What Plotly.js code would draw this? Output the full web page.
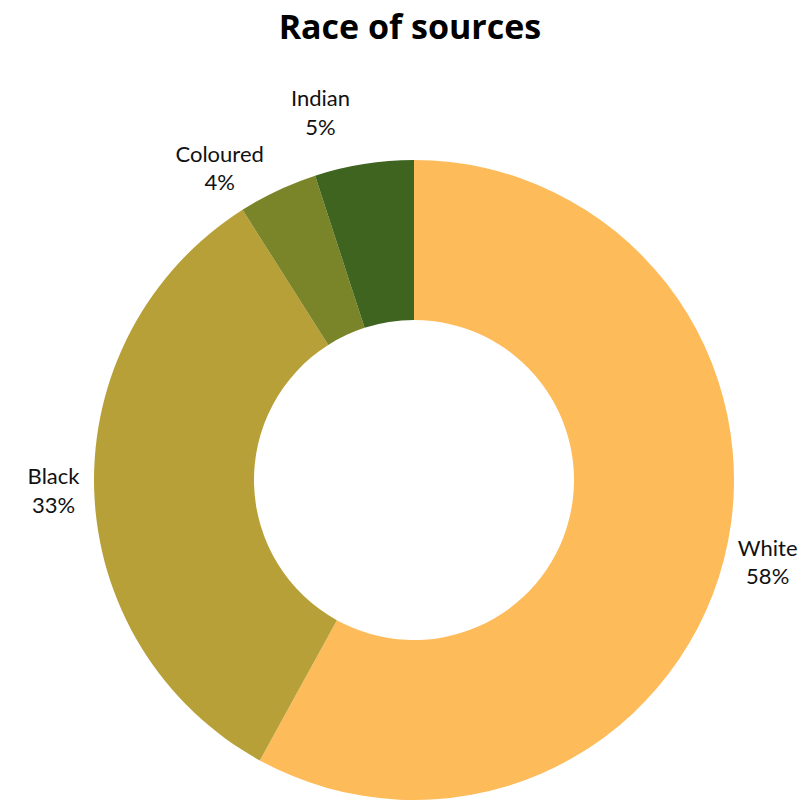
<!DOCTYPE html>
<html>
<head>
<meta charset="utf-8">
<script src="https://cdn.plot.ly/plotly-3.0.1.min.js"></script>
<style>html,body{margin:0;padding:0;background:#fff;}#chart{width:807px;height:800px;}#chart path.textline{display:none;}</style>
</head>
<body>
<div id="chart"></div>
<script>
const categories = ["White", "Black", "Coloured", "Indian"];
const shares = [58, 33, 4, 5];
const sliceColors = ["#FDBB5A", "#B8A038", "#7A8428", "#3F6420"];

const trace = {
  type: "pie",
  labels: categories,
  values: shares,
  hole: 0.5,
  sort: false,
  direction: "clockwise",
  rotation: 0,
  marker: { colors: sliceColors, line: { width: 0 } },
  textinfo: "label+percent",
  texttemplate: "%{label}<br>%{percent:.0%}",
  textposition: "outside",
  outsidetextfont: { family: "Lato, sans-serif", size: 22, color: "#111" },
  showlegend: false,
  hoverinfo: "label+percent"
};

const layout = {
  width: 807,
  height: 800,
  margin: { l: 94, r: 73, t: 160, b: 0 },
  paper_bgcolor: "#fff",
  title: {
    text: "<b>Race of sources</b>",
    font: { family: "'Open Sans', sans-serif", size: 34, color: "#000" },
    x: 0.508,
    xanchor: "center",
    y: 0.966,
    yanchor: "middle"
  },
  showlegend: false
};

Plotly.newPlot("chart", [trace], layout, { displayModeBar: false, staticPlot: true });
</script>
</body>
</html>
